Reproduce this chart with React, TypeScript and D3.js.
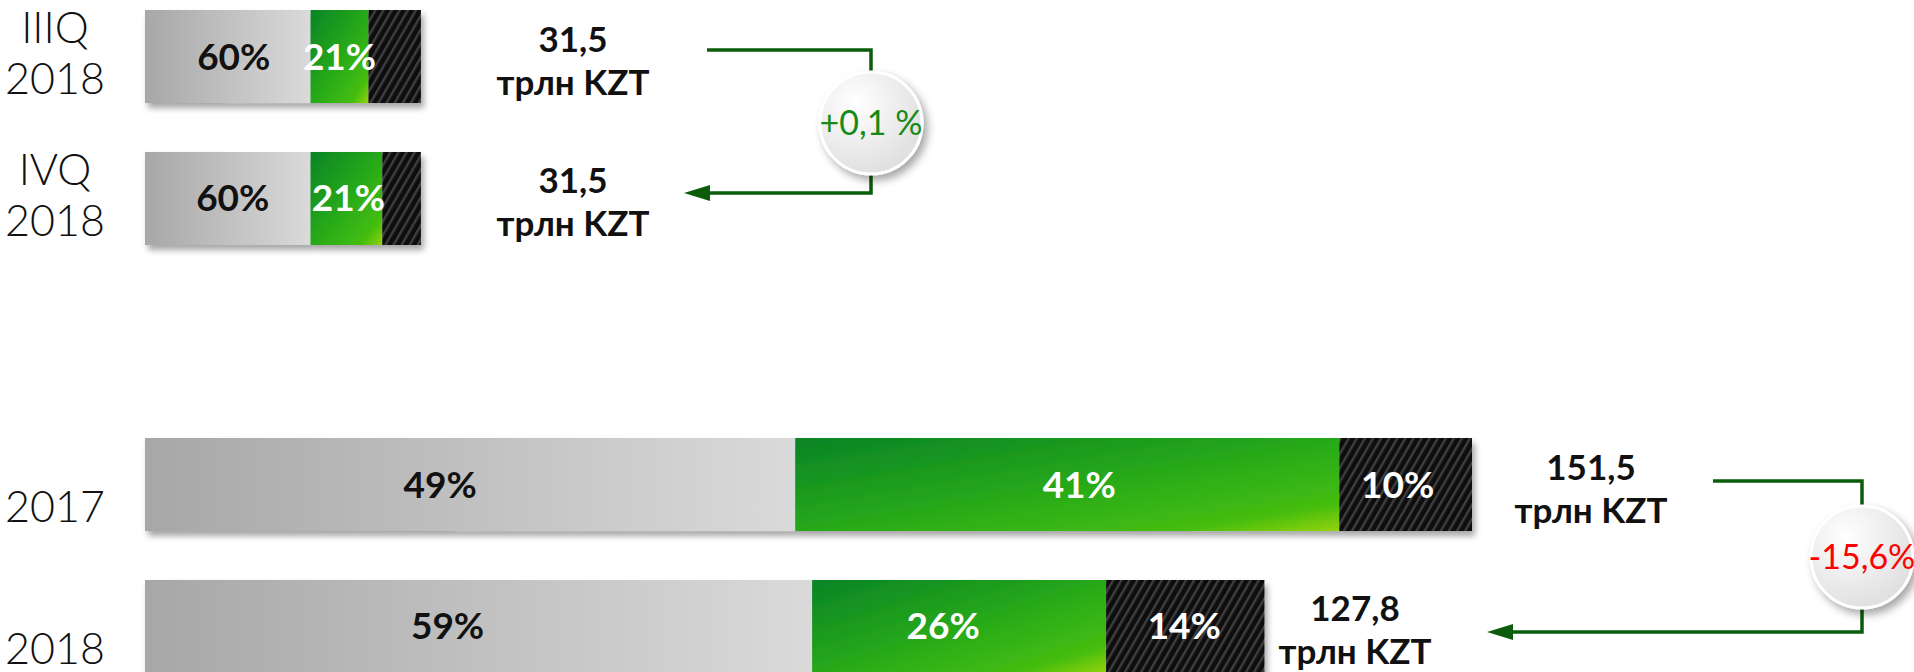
import React from "react";
import * as d3 from "d3";

// rows, top to bottom
const rowKeys = ["IIIQ 2018", "IVQ 2018", "2017", "2018"];
const rowLine1 = ["IIIQ", "IVQ", "", ""];
const rowLine2 = ["2018", "2018", "2017", "2018"];

// totals, trln KZT
const totals = [31.5, 31.5, 151.5, 127.8];
const totalText = ["31,5", "31,5", "151,5", "127,8"];

// shares of each bar (%)
const grayShare = [60, 60, 49, 59];
const greenShare = [21, 26, 41, 26];
const blackShare = [19, 14, 10, 14];
const grayText = ["60%", "60%", "49%", "59%"];
const greenText = ["21%", "21%", "41%", "26%"];
const blackText = ["", "", "10%", "14%"];

// change between the two rows of each group
const changeText = ["+0,1 %", "-15,6%"];

const W = 1914;
const H = 672;
const FONT = "Lato, 'Open Sans', sans-serif";

// layout only
const groups = [
  { rows: [0, 1], top: 10, bottom: 245, labelX: [573, 573], line: { x0: 707, y0: 50, x1: 871, y1: 193, tip: 684, cy: 123 } },
  { rows: [2, 3], top: 438, bottom: 673, labelX: [1591, 1355], line: { x0: 1713, y0: 481, x1: 1862, y1: 632, tip: 1487, cy: 557 } },
];
// small nudges of the in-bar labels, as placed in the original slide
const labelDx: Record<string, number[]> = {
  gray: [6, 5, -30, -31],
  green: [0, 2, 12, -16],
  black: [0, 0, -8, -1],
};

export default function App() {
  const x = d3.scaleLinear().domain([0, 151.5]).range([145, 1472]);

  const bars = rowKeys.map((key, i) => {
    const sum = grayShare[i] + greenShare[i] + blackShare[i];
    const stack = d3.stack<any>().keys(["gray", "green", "black"])([
      { gray: grayShare[i], green: greenShare[i], black: blackShare[i] },
    ]);
    const segs = stack.map((s) => ({
      key: s.key,
      x0: x((s[0][0] / sum) * totals[i]),
      x1: x((s[0][1] / sum) * totals[i]),
    }));
    return { key, i, segs };
  });

  const bandOf = (i: number) => {
    const g = groups.find((g) => g.rows.includes(i))!;
    const y = d3.scaleBand<number>().domain(g.rows).range([g.top, g.bottom]).paddingInner(0.345).paddingOuter(0);
    return { y: y(i)!, h: y.bandwidth(), g, idx: g.rows.indexOf(i) };
  };

  const fills: Record<string, string> = { gray: "url(#gGray)", green: "url(#gGreen)", black: "url(#carbon)" };
  const texts: Record<string, string[]> = { gray: grayText, green: greenText, black: blackText };

  return (
    <svg width={W} height={H} style={{ position: "absolute", left: 0, top: 0, background: "#fff" }}>
      <defs>
        <linearGradient id="gGray" x1="0" y1="0" x2="1" y2="0">
          <stop offset="0" stopColor="#a7a7a7" />
          <stop offset="1" stopColor="#dadada" />
        </linearGradient>
        <linearGradient id="gGreen" x1="0" y1="0" x2="1" y2="1">
          <stop offset="0" stopColor="#098426" />
          <stop offset="0.55" stopColor="#2aac18" />
          <stop offset="0.85" stopColor="#45bd10" />
          <stop offset="1" stopColor="#95d311" />
        </linearGradient>
        <pattern id="carbon" width="7" height="7" patternUnits="userSpaceOnUse" patternTransform="rotate(30)">
          <rect width="7" height="7" fill="#0c0c0c" />
          <rect x="0" width="2.5" height="7" fill="#3d3d3d" />
        </pattern>
        <radialGradient id="gCircle" cx="0.35" cy="0.3" r="0.8">
          <stop offset="0" stopColor="#ffffff" />
          <stop offset="1" stopColor="#dcdcdc" />
        </radialGradient>
        <filter id="barShadow" x="-5%" y="-20%" width="115%" height="150%">
          <feDropShadow dx="3" dy="5" stdDeviation="3" floodColor="#000" floodOpacity="0.35" />
        </filter>
        <filter id="circleShadow" x="-30%" y="-30%" width="170%" height="170%">
          <feDropShadow dx="4" dy="5" stdDeviation="4" floodColor="#000" floodOpacity="0.35" />
        </filter>
      </defs>

      {bars.map(({ key, i, segs }) => {
        const b = bandOf(i);
        const cy = b.y + b.h / 2;
        return (
          <g key={key}>
            <g filter="url(#barShadow)">
              {segs.map((s) => (
                <rect key={s.key} x={s.x0} y={b.y} width={s.x1 - s.x0} height={b.h} fill={fills[s.key]} />
              ))}
            </g>
            {segs.map((s) => (
              <text
                key={s.key + "t"}
                x={(s.x0 + s.x1) / 2 + labelDx[s.key][i]}
                y={cy + 13}
                textAnchor="middle"
                fontFamily={FONT}
                fontWeight={700}
                fontSize={37}
                fill={s.key === "gray" ? "#111" : "#fff"}
              >
                {texts[s.key][i]}
              </text>
            ))}
            <text
              x={55}
              textAnchor="middle"
              fontFamily={"'Lato Light', " + FONT}
              fontWeight={300}
              fontSize={43}
              fill="#111"
            >
              <tspan x={55} y={b.y + 33}>{rowLine1[i]}</tspan>
              <tspan x={55} y={b.y + 84}>{rowLine2[i]}</tspan>
            </text>
            <text textAnchor="middle" fontFamily={FONT} fontWeight={700} fontSize={35} fill="#111">
              <tspan x={b.g.labelX[b.idx]} y={cy - 5}>{totalText[i]}</tspan>
              <tspan x={b.g.labelX[b.idx]} y={cy + 38}>трлн KZT</tspan>
            </text>
          </g>
        );
      })}

      {groups.map((g, gi) => {
        const l = g.line;
        return (
          <g key={"c" + gi}>
            <path
              d={`M${l.x0},${l.y0}H${l.x1}V${l.y1}H${l.tip + 22}`}
              fill="none"
              stroke="#0b5c0b"
              strokeWidth={3.5}
            />
            <path d={`M${l.tip},${l.y1}L${l.tip + 26},${l.y1 - 8}L${l.tip + 26},${l.y1 + 8}Z`} fill="#0b5c0b" />
            <circle cx={l.x1} cy={l.cy} r={51} fill="url(#gCircle)" stroke="#fff" strokeWidth={3} filter="url(#circleShadow)" />
            <text
              x={l.x1}
              y={l.cy + 12}
              textAnchor="middle"
              fontFamily={FONT}
              fontSize={34}
              fill={gi === 0 ? "#168a16" : "#ff0000"}
            >
              {changeText[gi]}
            </text>
          </g>
        );
      })}
    </svg>
  );
}
